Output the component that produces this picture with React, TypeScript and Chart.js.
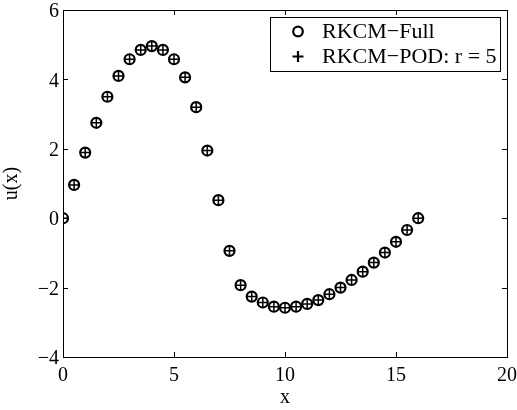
import React, { useEffect, useRef } from "react";
import { Chart, registerables } from "chart.js";

Chart.register(...registerables);

const xValues = [0, 0.5, 1, 1.5, 2, 2.5, 3, 3.5, 4, 4.5, 5, 5.5, 6, 6.5, 7, 7.5, 8, 8.5, 9, 9.5, 10, 10.5, 11, 11.5, 12, 12.5, 13, 13.5, 14, 14.5, 15, 15.5, 16];
const fullValues = [0, 0.96, 1.89, 2.75, 3.5, 4.1, 4.58, 4.85, 4.96, 4.85, 4.58, 4.06, 3.2, 1.95, 0.52, -0.94, -1.93, -2.26, -2.43, -2.55, -2.58, -2.55, -2.47, -2.36, -2.19, -2.0, -1.78, -1.54, -1.28, -0.99, -0.68, -0.34, 0];
const podValues = [0, 0.96, 1.89, 2.75, 3.5, 4.1, 4.58, 4.85, 4.96, 4.85, 4.58, 4.06, 3.2, 1.95, 0.52, -0.94, -1.93, -2.26, -2.43, -2.55, -2.58, -2.55, -2.47, -2.36, -2.19, -2.0, -1.78, -1.54, -1.28, -0.99, -0.68, -0.34, 0];
const xTicks = [0, 5, 10, 15, 20];
const yTicks = [-4, -2, 0, 2, 4, 6];
const seriesLabels = ["RKCM\u2212Full", "RKCM\u2212POD: r = 5"];
const xTitle = "x";
const yTitle = "u(x)";

const FONT = "'Liberation Serif', 'Times New Roman', serif";

const framePlugin = {
  id: "frameTicks",
  afterDraw(chart: any) {
    const { ctx, chartArea: a, scales } = chart;
    const xs = scales.x;
    const ys = scales.y;
    ctx.save();
    ctx.strokeStyle = "#000";
    ctx.lineWidth = 1;
    ctx.strokeRect(Math.round(a.left) + 0.5, Math.round(a.top) + 0.5, Math.round(a.right - a.left), Math.round(a.bottom - a.top));
    const tl = 5;
    ctx.beginPath();
    xTicks.forEach((v) => {
      const px = Math.round(xs.getPixelForValue(v)) + 0.5;
      ctx.moveTo(px, a.bottom);
      ctx.lineTo(px, a.bottom - tl);
      ctx.moveTo(px, a.top);
      ctx.lineTo(px, a.top + tl);
    });
    yTicks.forEach((v) => {
      const py = Math.round(ys.getPixelForValue(v)) + 0.5;
      ctx.moveTo(a.left, py);
      ctx.lineTo(a.left + tl, py);
      ctx.moveTo(a.right, py);
      ctx.lineTo(a.right - tl, py);
    });
    ctx.stroke();

    // legend box
    const bx = 270.5;
    const by = 17.5;
    const bw = 230;
    const bh = 54;
    ctx.fillStyle = "#fff";
    ctx.fillRect(bx, by, bw, bh);
    ctx.strokeRect(bx, by, bw, bh);
    const mx = 298;
    const r1 = 31.5;
    const r2 = 56.5;
    ctx.lineWidth = 2.2;
    ctx.beginPath();
    ctx.arc(mx, r1, 4.8, 0, Math.PI * 2);
    ctx.stroke();
    ctx.lineWidth = 2.2;
    ctx.beginPath();
    ctx.moveTo(mx - 5.5, r2);
    ctx.lineTo(mx + 5.5, r2);
    ctx.moveTo(mx, r2 - 5.5);
    ctx.lineTo(mx, r2 + 5.5);
    ctx.stroke();
    ctx.fillStyle = "#000";
    ctx.font = `22px ${FONT}`;
    ctx.textBaseline = "middle";
    ctx.textAlign = "left";
    ctx.fillText(seriesLabels[0], 322, r1 + 1);
    ctx.fillText(seriesLabels[1], 322, r2 + 1);
    ctx.restore();
  },
};

export default function App() {
  const ref = useRef<HTMLCanvasElement>(null);
  useEffect(() => {
    if (!ref.current) return;
    const chart = new Chart(ref.current, {
      type: "scatter",
      data: {
        datasets: [
          {
            label: seriesLabels[0],
            data: xValues.map((x, i) => ({ x, y: fullValues[i] })),
            pointStyle: "circle",
            pointRadius: 5,
            pointBorderWidth: 2.2,
            borderColor: "#000",
            backgroundColor: "rgba(0,0,0,0)",
            showLine: false,
          },
          {
            label: seriesLabels[1],
            data: xValues.map((x, i) => ({ x, y: podValues[i] })),
            pointStyle: "cross",
            pointRadius: 5,
            pointBorderWidth: 1.5,
            borderColor: "#000",
            backgroundColor: "#000",
            showLine: false,
          },
        ],
      },
      options: {
        animation: false,
        responsive: false,
        layout: { padding: { top: 10, right: 10, left: 0, bottom: 0 } },
        plugins: { legend: { display: false }, tooltip: { enabled: false } },
        scales: {
          x: {
            type: "linear",
            min: 0,
            max: 20,
            afterBuildTicks: (s: any) => {
              s.ticks = xTicks.map((v) => ({ value: v }));
            },
            afterFit: (s: any) => {
              s.height = 53;
              s.paddingLeft = 0;
              s.paddingRight = 0;
            },
            grid: { display: false, drawTicks: false },
            border: { display: false },
            ticks: {
              color: "#000",
              font: { family: FONT, size: 20 },
              padding: 7,
              maxRotation: 0,
            },
            title: {
              display: true,
              text: xTitle,
              color: "#000",
              font: { family: FONT, size: 20 },
              padding: { top: 0, bottom: 0 },
            },
          },
          y: {
            type: "linear",
            min: -4,
            max: 6,
            afterBuildTicks: (s: any) => {
              s.ticks = yTicks.map((v) => ({ value: v }));
            },
            afterFit: (s: any) => {
              s.width = 63;
              s.paddingTop = 0;
              s.paddingBottom = 0;
            },
            grid: { display: false, drawTicks: false },
            border: { display: false },
            ticks: {
              color: "#000",
              font: { family: FONT, size: 20 },
              padding: 4,
              labelOffset: 2,
              callback: (v: any) => (v < 0 ? "\u2212" + Math.abs(v) : String(v)),
            },
            title: {
              display: true,
              text: yTitle,
              color: "#000",
              font: { family: FONT, size: 20 },
              padding: { top: 0, bottom: 0 },
            },
          },
        },
      },
      plugins: [framePlugin],
    });
    return () => chart.destroy();
  }, []);
  return (
    <div style={{ position: "fixed", left: 0, top: 0, width: 517, height: 410, background: "#fff" }}>
      <canvas ref={ref} width={517} height={410} style={{ width: 517, height: 410 }} />
    </div>
  );
}
